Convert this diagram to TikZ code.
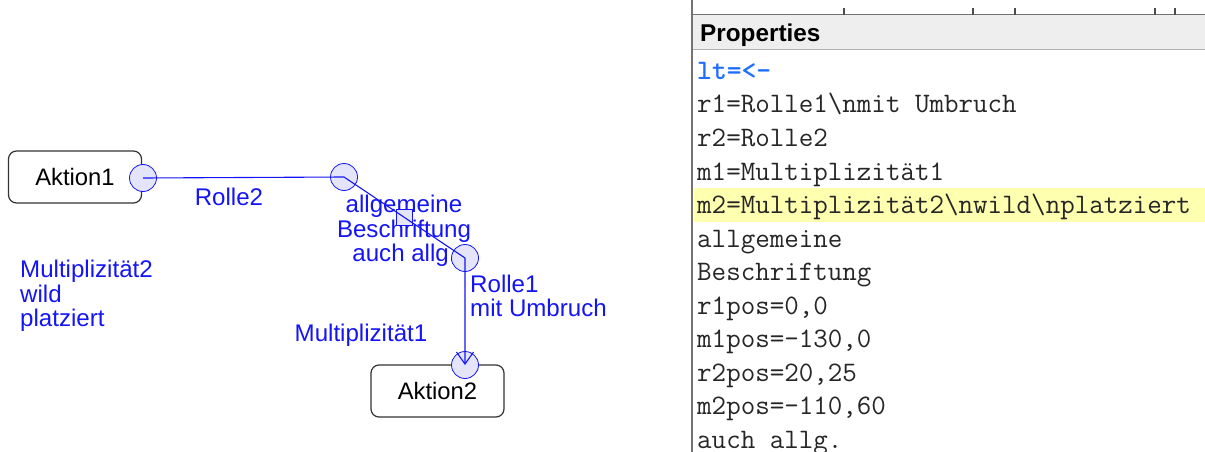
\documentclass[tikz,border=0pt]{standalone}
\usepackage{fontspec}
\setmainfont{Liberation Sans}
\usetikzlibrary{arrows.meta,calc}
\definecolor{umlblau}{RGB}{20,20,245}
\definecolor{kreisfill}{RGB}{228,228,250}
\definecolor{ltblau}{RGB}{30,110,255}
\definecolor{markgelb}{RGB}{255,255,176}
\definecolor{kopfgrau}{RGB}{238,238,238}
\begin{document}
\begin{tikzpicture}[x=1pt,y=-1pt]
	\tikzstyle{aktion}=[draw=black!80,line width=1.2pt,rounded corners=8pt,minimum width=133pt,minimum height=52pt,font=\fontsize{23.8}{24}\selectfont]
	\tikzstyle{beschr}=[text=umlblau,inner sep=0pt,align=left,font=\fontsize{24.1}{24.5}\selectfont]
	\tikzstyle{kreis}=[circle,draw=umlblau,fill=kreisfill,line width=0.8pt,minimum size=27pt,inner sep=0pt]
	\tikzstyle{zeile}=[anchor=base west,inner sep=0pt,text=black!85,font=\fontsize{28.2}{30}\ttfamily]
	\useasboundingbox (0,0) rectangle (1205,452);
	% diagramm
	\node[aktion] (akt1) at (75,177) {Aktion1};
	\node[aktion] (akt2) at (437.5,391) {Aktion2};
	\node[beschr] (rolle2) at (229,197) {Rolle2};
	\node[beschr,align=center] (allg) at (404,231) {allgemeine\\Beschriftung\\auch allg.};
	\node[beschr,anchor=west] (rolle1) at (470,296) {Rolle1\\mit Umbruch};
	\node[beschr] (mult1) at (361,335) {Multiplizität1};
	\node[beschr,anchor=west] (mult2) at (20,296) {Multiplizität2\\wild\\platziert};
	\node[kreis] (k1) at (143,178) { };
	\node[kreis] (k2) at (344,177) { };
	\node[kreis] (k3) at (465,258) { };
	\node[kreis] (k4) at (465,365) { };
	\node[draw=umlblau,fill=kreisfill,line width=0.8pt,minimum size=16pt,inner sep=0pt] (quad) at ($(k2)!0.5!(k3)$) { };
	\draw[umlblau,line width=1.1pt,-{Straight Barb[length=12pt,width=17pt]}] (k1.center) -- (k2.center) -- (k3.center) -- (k4.center);
	% properties
	\fill[markgelb] (694,188) rectangle (1205,222);
	\fill[kopfgrau] (692,15) rectangle (1205,50);
	\draw[black!55,line width=1pt] (692,15) -- (1205,15);
	\draw[black!30,line width=1pt] (692,50) -- (1205,50);
	\draw[black!55,line width=2pt] (692,0) -- (692,452);
	\foreach \x in {844,973,1015,1155,1175}
	{
		\draw[black!70,line width=1.2pt] (\x,8) -- (\x,15);
	}
	\node[anchor=base west,inner sep=0pt,font=\fontsize{24.3}{26}\selectfont\bfseries] (kopf) at (700,42) {Properties};
	\node[zeile,text=ltblau,font=\fontsize{28.2}{30}\ttfamily\bfseries] (lt) at (697,79.5) {lt=<-};
	\foreach \txt [count=\i] in {{r1=Rolle1\textbackslash nmit Umbruch},{r2=Rolle2},{m1=Multiplizität1},
		{m2=Multiplizität2\textbackslash nwild\textbackslash nplatziert},{allgemeine},{Beschriftung},
		{r1pos=0,0},{m1pos=-130,0},{r2pos=20,25},{m2pos=-110,60},{auch allg.}}
	{
		\node[zeile] (p\i) at (697,{79.5+33.5*\i}) {\txt};
	}
\end{tikzpicture}
\end{document}
